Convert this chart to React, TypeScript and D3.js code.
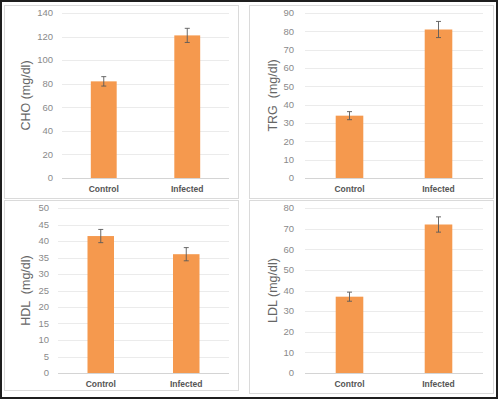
import React, { useEffect, useRef } from "react";
import * as d3 from "d3";

const categories = ["Control", "Infected"];

const choValues = [82, 121];
const choErrors = [4, 6];
const trgValues = [34, 81];
const trgErrors = [2.2, 4.4];
const hdlValues = [41.5, 36];
const hdlErrors = [2, 2];
const ldlValues = [37, 72];
const ldlErrors = [2.2, 3.7];

const choTicks = [0, 20, 40, 60, 80, 100, 120, 140];
const trgTicks = [0, 10, 20, 30, 40, 50, 60, 70, 80, 90];
const hdlTicks = [0, 5, 10, 15, 20, 25, 30, 35, 40, 45, 50];
const ldlTicks = [0, 10, 20, 30, 40, 50, 60, 70, 80];

interface Panel {
    title: string;
    values: number[];
    errors: number[];
    ticks: number[];
    box: { x: number; y: number; w: number; h: number };
    plot: { left: number; right: number; top: number; bottom: number };
    tickX: number;
    titleX: number;
}

const App: React.FC = () => {
    const svgRef = useRef<SVGSVGElement | null>(null);

    useEffect(() => {
        if (!svgRef.current) return;
        const svg = d3.select(svgRef.current);
        svg.selectAll("*").remove();

        const width = 498;
        const height = 399;
        const barColor = "#F5994E";
        const font = "'Liberation Sans', Arial, sans-serif";

        svg.append("rect")
            .attr("x", 0).attr("y", 0)
            .attr("width", width).attr("height", height)
            .attr("fill", "#fff");

        const panels: Panel[] = [
            {
                title: "CHO (mg/dl)", values: choValues, errors: choErrors, ticks: choTicks,
                box: { x: 4.5, y: 5.5, w: 234, h: 193 },
                plot: { left: 62, right: 229, top: 13, bottom: 178 },
                tickX: 53, titleX: 26,
            },
            {
                title: "TRG  (mg/dl)", values: trgValues, errors: trgErrors, ticks: trgTicks,
                box: { x: 249.5, y: 5.5, w: 244, h: 193 },
                plot: { left: 305, right: 483, top: 13, bottom: 178 },
                tickX: 294, titleX: 273,
            },
            {
                title: "HDL  (mg/dl)", values: hdlValues, errors: hdlErrors, ticks: hdlTicks,
                box: { x: 4.5, y: 200.5, w: 234, h: 190 },
                plot: { left: 58, right: 229, top: 208, bottom: 373 },
                tickX: 49, titleX: 26,
            },
            {
                title: "LDL (mg/dl)", values: ldlValues, errors: ldlErrors, ticks: ldlTicks,
                box: { x: 249.5, y: 200.5, w: 244, h: 193 },
                plot: { left: 305, right: 483, top: 208, bottom: 373 },
                tickX: 294, titleX: 273,
            },
        ];

        panels.forEach((p) => {
            const g = svg.append("g");

            g.append("rect")
                .attr("x", p.box.x).attr("y", p.box.y)
                .attr("width", p.box.w).attr("height", p.box.h)
                .attr("fill", "#fff")
                .attr("stroke", "#DADADA")
                .attr("stroke-width", 1);

            const x = d3.scaleBand<string>()
                .domain(categories)
                .range([p.plot.left, p.plot.right]);
            const y = d3.scaleLinear()
                .domain([0, p.ticks[p.ticks.length - 1]])
                .range([p.plot.bottom, p.plot.top]);

            g.selectAll("line.grid")
                .data(p.ticks)
                .join("line")
                .attr("class", "grid")
                .attr("x1", p.plot.left).attr("x2", p.plot.right)
                .attr("y1", (d) => Math.round(y(d)) + 0.5)
                .attr("y2", (d) => Math.round(y(d)) + 0.5)
                .attr("stroke", (d) => (d === 0 ? "#D4D4D4" : "#EBEBEB"))
                .attr("stroke-width", 1);

            g.selectAll("text.tick")
                .data(p.ticks)
                .join("text")
                .attr("class", "tick")
                .attr("x", p.tickX)
                .attr("y", (d) => y(d))
                .attr("dy", "0.35em")
                .attr("text-anchor", "end")
                .attr("font-family", font)
                .attr("font-size", 9.5)
                .attr("fill", "#8A8A8A")
                .text((d) => d);

            const bw = x.bandwidth() * 0.31;
            const cx = (c: string) => x(c)! + x.bandwidth() / 2;

            g.selectAll("rect.bar")
                .data(categories)
                .join("rect")
                .attr("class", "bar")
                .attr("x", (c) => cx(c) - bw / 2)
                .attr("width", bw)
                .attr("y", (c, i) => y(p.values[i]))
                .attr("height", (c, i) => y(0) - y(p.values[i]))
                .attr("fill", barColor);

            const err = g.selectAll("g.err")
                .data(categories)
                .join("g")
                .attr("class", "err")
                .attr("stroke", "#5A5A5A")
                .attr("stroke-width", 0.9);
            err.append("line")
                .attr("x1", (c) => cx(c)).attr("x2", (c) => cx(c))
                .attr("y1", (c, i) => y(p.values[i] - p.errors[i]))
                .attr("y2", (c, i) => y(p.values[i] + p.errors[i]));
            err.append("line")
                .attr("x1", (c) => cx(c) - 2.5).attr("x2", (c) => cx(c) + 2.5)
                .attr("y1", (c, i) => y(p.values[i] + p.errors[i]))
                .attr("y2", (c, i) => y(p.values[i] + p.errors[i]));
            err.append("line")
                .attr("x1", (c) => cx(c) - 2.5).attr("x2", (c) => cx(c) + 2.5)
                .attr("y1", (c, i) => y(p.values[i] - p.errors[i]))
                .attr("y2", (c, i) => y(p.values[i] - p.errors[i]));

            g.selectAll("text.cat")
                .data(categories)
                .join("text")
                .attr("class", "cat")
                .attr("x", (c) => cx(c))
                .attr("y", p.plot.bottom + 14)
                .attr("text-anchor", "middle")
                .attr("font-family", font)
                .attr("font-size", 8.5)
                .attr("font-weight", "bold")
                .attr("fill", "#555")
                .text((c) => c);

            const midY = (p.plot.top + p.plot.bottom) / 2;
            g.append("text")
                .attr("transform", `translate(${p.titleX},${midY}) rotate(-90)`)
                .attr("text-anchor", "middle")
                .attr("dy", "0.35em")
                .attr("font-family", font)
                .attr("font-size", 12.5)
                .attr("fill", "#666")
                .style("white-space", "pre")
                .text(p.title);
        });

        svg.append("rect")
            .attr("x", 1).attr("y", 1)
            .attr("width", width - 2).attr("height", height - 2)
            .attr("fill", "none")
            .attr("stroke", "#1E1E1E")
            .attr("stroke-width", 2);
    }, []);

    return (
        <svg
            ref={svgRef}
            width={498}
            height={399}
            style={{ position: "absolute", left: 0, top: 0, display: "block" }}
        ></svg>
    );
};

export default App;
